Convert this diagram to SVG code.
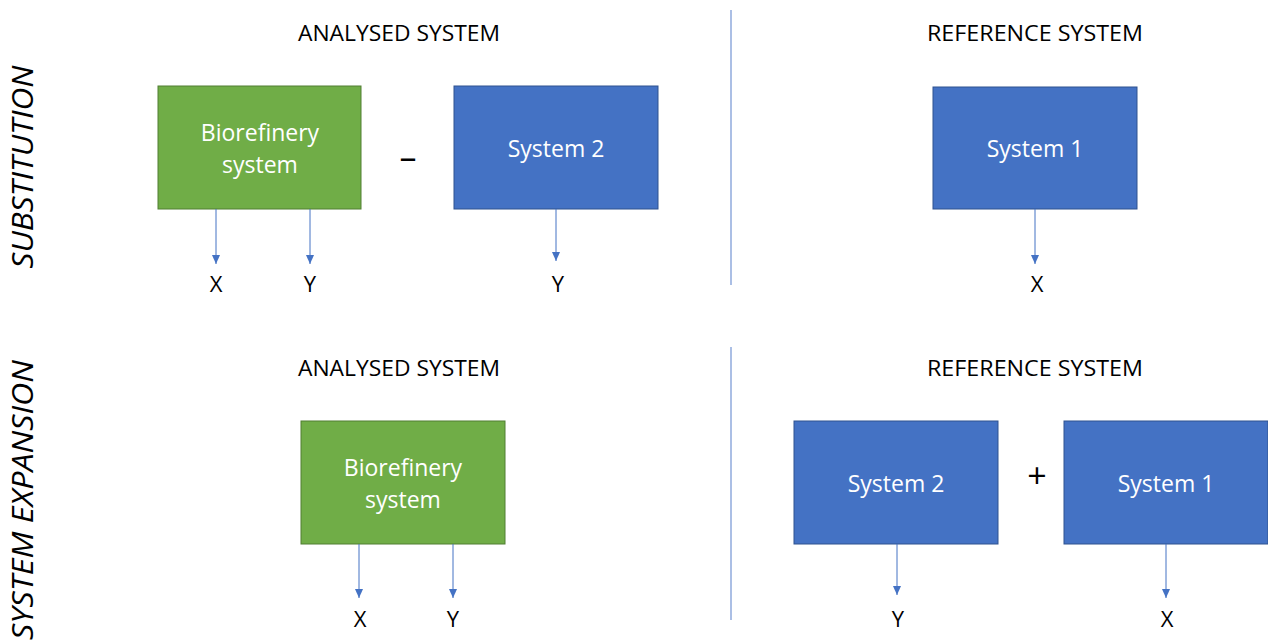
<svg xmlns="http://www.w3.org/2000/svg" width="1268" height="640" viewBox="0 0 1268 640">
<style>
.g{fill:#70ad47;stroke:#507e32;stroke-width:1}
.b{fill:#4472c4;stroke:#2f528f;stroke-width:1}
.t{font-family:"Open Sans","Liberation Sans",sans-serif;font-size:23px;fill:#ffffff;text-anchor:middle}
.h{font-family:"Open Sans","Liberation Sans",sans-serif;font-size:21px;fill:#000;text-anchor:middle}
.op{font-family:"Open Sans","Liberation Sans",sans-serif;font-size:34px;fill:#000;text-anchor:middle}
.l{font-family:"Open Sans","Liberation Sans",sans-serif;font-size:22px;fill:#000;text-anchor:middle}
.s{font-family:"Open Sans","Liberation Sans",sans-serif;font-size:30px;font-style:italic;fill:#000;text-anchor:middle}
.c{stroke:#4472c4;stroke-width:1;fill:none;marker-end:url(#ah)}
.d{stroke:#8faadc;stroke-width:1.5}
</style>
<defs>
<marker id="ah" markerWidth="9" markerHeight="8" refX="9" refY="4" orient="auto" markerUnits="userSpaceOnUse" viewBox="0 0 9 8">
<path d="M0,0 L9,4 L0,8 Z" fill="#4472c4"/>
</marker>
</defs>
<g id="side-labels">
<text class="s" transform="translate(33,167) rotate(-90)" textLength="203" lengthAdjust="spacingAndGlyphs">SUBSTITUTION</text>
<text class="s" transform="translate(33,500) rotate(-90)" textLength="280" lengthAdjust="spacingAndGlyphs">SYSTEM EXPANSION</text>
</g>
<g id="headers">
<text class="h" x="399" y="41" textLength="202" lengthAdjust="spacingAndGlyphs">ANALYSED SYSTEM</text>
<text class="h" x="1035" y="41" textLength="216" lengthAdjust="spacingAndGlyphs">REFERENCE SYSTEM</text>
<text class="h" x="399" y="376" textLength="202" lengthAdjust="spacingAndGlyphs">ANALYSED SYSTEM</text>
<text class="h" x="1035" y="376" textLength="216" lengthAdjust="spacingAndGlyphs">REFERENCE SYSTEM</text>
</g>
<g id="dividers">
<line class="d" x1="731" y1="10" x2="731" y2="285"/>
<line class="d" x1="731" y1="347" x2="731" y2="620"/>
</g>
<g id="bio-top">
<rect class="g" x="158" y="86" width="203" height="123"/>
<text class="t" x="260" y="141">Biorefinery</text>
<text class="t" x="260" y="173">system</text>
</g>
<g id="minus"><text class="op" x="408" y="169">–</text></g>
<g id="sys2-top">
<rect class="b" x="454" y="86" width="204" height="123"/>
<text class="t" x="556" y="157">System 2</text>
</g>
<g id="sys1-top">
<rect class="b" x="933" y="87" width="204" height="122"/>
<text class="t" x="1035" y="157">System 1</text>
</g>
<g id="bio-bottom">
<rect class="g" x="301" y="421" width="204" height="123"/>
<text class="t" x="403" y="476">Biorefinery</text>
<text class="t" x="403" y="508">system</text>
</g>
<g id="plus"><text class="op" x="1037" y="488">+</text></g>
<g id="sys2-bottom">
<rect class="b" x="794" y="421" width="204" height="123"/>
<text class="t" x="896" y="492">System 2</text>
</g>
<g id="sys1-bottom">
<rect class="b" x="1064" y="421" width="204" height="123"/>
<text class="t" x="1166" y="492">System 1</text>
</g>
<g id="connectors">
<line class="c" x1="216" y1="209" x2="216" y2="264"/>
<line class="c" x1="310" y1="209" x2="310" y2="264"/>
<line class="c" x1="556" y1="209" x2="556" y2="261"/>
<line class="c" x1="1035" y1="209" x2="1035" y2="264"/>
<line class="c" x1="359" y1="544" x2="359" y2="598"/>
<line class="c" x1="453" y1="544" x2="453" y2="598"/>
<line class="c" x1="897" y1="544" x2="897" y2="595"/>
<line class="c" x1="1166" y1="544" x2="1166" y2="598"/>
</g>
<g id="output-labels">
<text class="l" x="216" y="292">X</text>
<text class="l" x="310" y="292">Y</text>
<text class="l" x="558" y="292">Y</text>
<text class="l" x="1037" y="292">X</text>
<text class="l" x="360" y="627">X</text>
<text class="l" x="453" y="627">Y</text>
<text class="l" x="898" y="627">Y</text>
<text class="l" x="1167" y="627">X</text>
</g>
</svg>
